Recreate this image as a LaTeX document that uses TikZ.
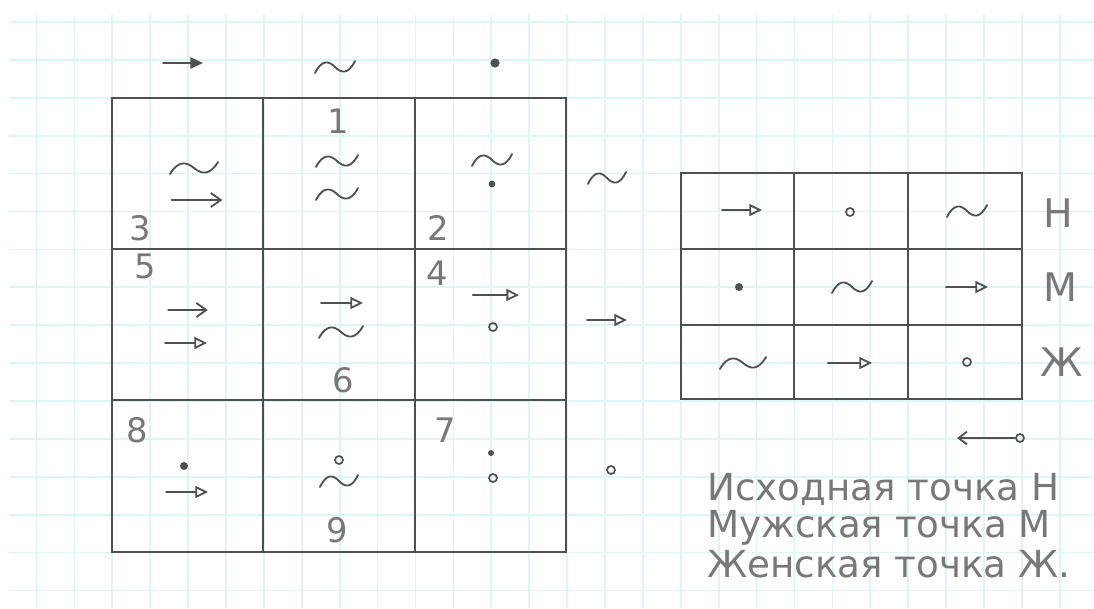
\documentclass[tikz,border=0pt]{standalone}
\usepackage{fontspec}
\setmainfont{DejaVu Sans}
\usetikzlibrary{arrows.meta}
\definecolor{pencil}{RGB}{80,80,80}
\definecolor{lead}{RGB}{120,120,120}
\definecolor{paperline}{RGB}{220,246,246}

\begin{document}
\begin{tikzpicture}[x=0.025cm,y=-0.025cm,
  pen/.style={draw=pencil,line width=1.3pt,line cap=round},
  gridline/.style={draw=paperline,line width=1.2pt},
  num/.style={text=lead,font=\fontsize{24}{28}\selectfont,inner sep=0pt},
  side/.style={text=lead,font=\fontsize{28}{32}\selectfont,inner sep=0pt},
  legend/.style={anchor=base west,text=lead,font=\fontsize{26.5}{30}\selectfont,inner sep=0pt},
  wave/.pic={\draw[pen] (-20,6) .. controls (-13,-8) and (-6,-6) .. (0,0)
                             .. controls (6,6) and (13,8) .. (20,-6);},
  triarrow/.pic={\draw[pen,-{Triangle[open,length=9pt,width=8.5pt]}] (-21,0) -- (21,0);},
  fullarrow/.pic={\draw[pen,-{Triangle[length=9pt,width=8pt]}] (-20,0) -- (20,0);},
  barbarrow/.pic={\draw[pen,-{Straight Barb[length=7pt,width=10pt]}] (-22,0) -- (22,0);},
  dot/.pic={\fill[pencil] (0,0) circle (4);},
  ring/.pic={\draw[pencil,line width=1.2pt] (0,0) circle (4);}]
\useasboundingbox (0,0) rectangle (1094,608);
\fill[white] (0,0) rectangle (1094,608);
\foreach \k in {0,...,27} \draw[gridline] ({36.5+37.9*\k},15) -- ({36.5+37.9*\k},608);
\foreach \k in {0,...,15} \draw[gridline] (9,{22+37.9*\k}) -- (1094,{22+37.9*\k});

\draw[pen] (112,98) rectangle (566,552);
\foreach \gx in {263,415} \draw[pen] (\gx,98) -- (\gx,552);
\foreach \gy in {249,400} \draw[pen] (112,\gy) -- (566,\gy);

\pic at (183,63) {fullarrow};
\pic at (335,67) {wave};
\pic[scale=1.15] at (495,63) {dot};

\pic[xscale=1.2] at (194,168) {wave};
\pic[xscale=1.15] at (197,200) {barbarrow};
\node[num] (n3) at (140,228) {3};
\node[num] (n1) at (338,121) {1};
\pic[xscale=1.05] at (337,161) {wave};
\pic[xscale=1.05] at (337,194) {wave};
\pic at (492,160) {wave};
\pic[scale=0.85] at (492,184) {dot};
\node[num] (n2) at (438,228) {2};
\pic[xscale=0.95] at (607,178) {wave};

\node[num] (n5) at (145,266) {5};
\pic[xscale=0.9] at (188,310) {barbarrow};
\pic at (186,343) {triarrow};
\pic at (342,303) {triarrow};
\pic[xscale=1.1] at (341,332) {wave};
\node[num] (n6) at (343,380) {6};
\node[num] (n4) at (437,273) {4};
\pic[xscale=1.1] at (496,295) {triarrow};
\pic at (493,327) {ring};
\pic[xscale=0.95] at (607,320) {triarrow};

\node[num] (n8) at (137,430) {8};
\pic at (184,466) {dot};
\pic at (187,492) {triarrow};
\pic at (339,460) {ring};
\pic[xscale=0.95] at (339,481) {wave};
\node[num] (n9) at (337,530) {9};
\node[num] (n7) at (445,430) {7};
\pic[scale=0.75] at (491,453) {dot};
\pic at (493,478) {ring};
\pic at (611,470) {ring};

\draw[pen] (681,173) rectangle (1022,399);
\foreach \gx in {794,908} \draw[pen] (\gx,173) -- (\gx,399);
\foreach \gy in {249,325} \draw[pen] (681,\gy) -- (1022,\gy);

\pic[xscale=0.95] at (742,210) {triarrow};
\pic at (850,212) {ring};
\pic at (967,211) {wave};
\node[side] (lblH) at (1058,213) {Н};
\pic at (739,287) {dot};
\pic at (852,287) {wave};
\pic at (967,287) {triarrow};
\node[side] (lblM) at (1060,287) {М};
\pic[xscale=1.15] at (743,363) {wave};
\pic[xscale=1.05] at (850,363) {triarrow};
\pic at (967,362) {ring};
\node[side] (lblZh) at (1062,362) {Ж};

\pic at (1020,438) {ring};
\draw[pen,-{Straight Barb[length=6pt,width=9pt]}] (1015,438) -- (957,438);

\node[legend] (legH) at (707,500) {Исходная точка Н};
\node[legend] (legM) at (707,537) {Мужская точка М};
\node[legend] (legZh) at (707,577) {Женская точка Ж.};
\end{tikzpicture}
\end{document}
